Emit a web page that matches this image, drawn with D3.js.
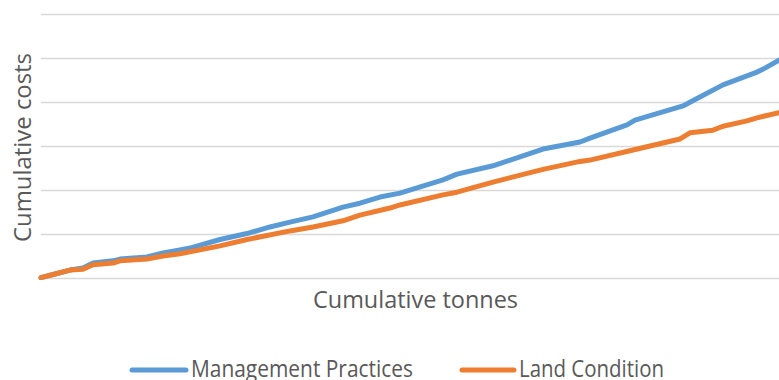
<!DOCTYPE html>
<html><head><meta charset="utf-8">
<script src="https://cdn.jsdelivr.net/npm/d3@7"></script>
<style>body{margin:0;background:#fff}svg{display:block}</style>
</head><body>
<svg id="c" width="779" height="380"></svg>
<script>
// cumulative tonnes (relative units) and cumulative costs (relative units, one gridline = 1)
const mpTonnes = [0,1.9,3.93,5.69,7.05,9.76,10.7,14.36,16.53,18.83,20.19,24.25,27.91,31.03,33.74,36.86,40.92,43.22,45.93,48.64,54.47,56.37,61.25,68.02,73.04,74.39,79.4,80.49,86.99,88.89,92.41,97.02,98.1,100];
const mpCosts  = [0.01,0.09,0.18,0.23,0.34,0.39,0.43,0.48,0.57,0.64,0.68,0.875,1.01,1.16,1.27,1.39,1.61,1.7,1.84,1.93,2.23,2.36,2.55,2.93,3.09,3.18,3.48,3.59,3.91,4.08,4.39,4.68,4.77,4.95];
const lcTonnes = [0,1.9,3.93,5.69,7.05,9.76,10.7,14.36,16.53,18.83,24.25,27.91,33.74,36.86,40.92,43.22,47.29,48.64,54.47,56.37,61.25,68.02,73.04,74.39,80.22,86.59,87.94,91.06,92.41,95.66,97.02,100];
const lcCosts  = [0.01,0.09,0.18,0.2,0.3,0.34,0.39,0.43,0.5,0.55,0.73,0.875,1.07,1.16,1.3,1.43,1.59,1.66,1.89,1.95,2.18,2.47,2.65,2.68,2.91,3.16,3.3,3.36,3.45,3.57,3.64,3.76];
const yTicks = [0,1,2,3,4,5,6];
const seriesNames = ["Management Practices","Land Condition"];
const colors = ["#5B9BD5","#ED7D31"];

const svg = d3.select("#c");
const x = d3.scaleLinear().domain([0,100]).range([41,779]);
const y = d3.scaleLinear().domain([0,6]).range([278,14]);
const font = "'Open Sans', sans-serif";
const txtCol = "#595959";

// gridlines via axis
const gAxis = svg.append("g").attr("transform","translate(41,0)")
  .call(d3.axisLeft(y).tickValues(yTicks).tickSize(-738).tickFormat(""));
gAxis.select(".domain").remove();
gAxis.selectAll(".tick line").attr("stroke","#D9D9D9").attr("stroke-width",1.5);

const line = d3.line().x(d=>x(d[0])).y(d=>y(d[1]));
const series = [d3.zip(mpTonnes,mpCosts), d3.zip(lcTonnes,lcCosts)];
series.forEach((s,i)=>{
  svg.append("path").datum(s).attr("d",line).attr("fill","none")
    .attr("stroke",colors[i]).attr("stroke-width",5)
    .attr("stroke-linejoin","round").attr("stroke-linecap","round");
});

function txt(sel){
  return sel.attr("font-family",font).attr("font-size",23).attr("fill",txtCol)
    .attr("lengthAdjust","spacingAndGlyphs");
}
// axis titles
txt(svg.append("text")).attr("x",313).attr("y",308)
  .attr("textLength",205).text("Cumulative tonnes");
txt(svg.append("text")).attr("transform","translate(31,242) rotate(-90)")
  .attr("textLength",189).text("Cumulative costs");

// legend
const leg = [{x1:132,x2:186,tx:191,tl:222},{x1:462,x2:514,tx:519,tl:145}];
leg.forEach((l,i)=>{
  svg.append("line").attr("x1",l.x1).attr("x2",l.x2).attr("y1",370).attr("y2",370)
    .attr("stroke",colors[i]).attr("stroke-width",5).attr("stroke-linecap","round");
  txt(svg.append("text")).attr("x",l.tx).attr("y",377)
    .attr("textLength",l.tl).text(seriesNames[i]);
});
</script>
</body></html>
